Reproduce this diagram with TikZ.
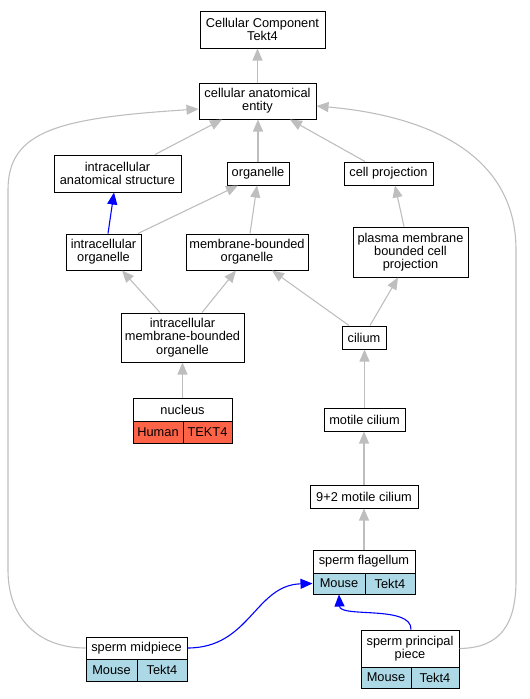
\documentclass[tikz,border=0pt]{standalone}
\usepackage{fontspec}
\setmainfont{Liberation Sans}
\usetikzlibrary{arrows.meta}
\definecolor{edgegray}{RGB}{190,190,190}
\definecolor{humanred}{RGB}{255,99,71}
\definecolor{mouseblue}{RGB}{173,216,230}
\begin{document}
\begin{tikzpicture}[x=1pt,y=-1pt,
  box/.style={draw=black, line width=1pt, inner sep=0pt, align=center, font=\fontsize{12.8}{13.3}\selectfont, fill=white},
  human/.style={box, fill=humanred},
  mouse/.style={box, fill=mouseblue},
  edge/.style={draw=edgegray, line width=1.1pt, -{Triangle[length=12pt,width=10pt]}},
  blueedge/.style={draw=blue, line width=1.1pt, -{Triangle[length=12pt,width=10pt]}}]
\useasboundingbox (0,0) rectangle (530,699);

% nodes
\node[box,minimum width=125pt,minimum height=37pt] (cc) at (262.5,29.5) {Cellular Component\\Tekt4};
\node[box,minimum width=117pt,minimum height=36pt] (cae) at (257.5,101) {cellular anatomical\\entity};
\node[box,minimum width=127pt,minimum height=37pt] (ias) at (117.5,173.5) {intracellular\\anatomical structure};
\node[box,minimum width=62pt,minimum height=23pt] (org) at (258,173.5) {organelle};
\node[box,minimum width=89pt,minimum height=23pt] (cp) at (388.5,173.5) {cell projection};
\node[box,minimum width=75pt,minimum height=36pt] (io) at (103.5,252) {intracellular\\organelle};
\node[box,minimum width=122pt,minimum height=36pt] (mbo) at (247,252) {membrane-bounded\\organelle};
\node[box,minimum width=115pt,minimum height=50pt] (pmbcp) at (410.5,252) {plasma membrane\\bounded cell\\projection};
\node[box,minimum width=123pt,minimum height=49pt] (imbo) at (182.5,337.5) {intracellular\\membrane-bounded\\organelle};
\node[box,minimum width=44pt,minimum height=23pt] (cil) at (364,337.5) {cilium};
\node[box,minimum width=99pt,minimum height=23pt] (nuc) at (182.5,409.5) {nucleus};
\node[human,minimum width=50pt,minimum height=22pt] (nuch) at (158,432) {Human};
\node[human,minimum width=49pt,minimum height=22pt] (nuct) at (207.5,432) {TEKT4};
\node[box,minimum width=81pt,minimum height=23pt] (mc) at (364.5,419.5) {motile cilium};
\node[box,minimum width=108pt,minimum height=23pt] (nt) at (364,496.5) {9+2 motile cilium};
\node[box,minimum width=102pt,minimum height=23pt] (sf) at (364,561.5) {sperm flagellum};
\node[mouse,minimum width=52pt,minimum height=21pt] (sfm) at (339,583.5) {Mouse};
\node[mouse,minimum width=50pt,minimum height=21pt] (sft) at (390,583.5) {Tekt4};
\node[box,minimum width=101pt,minimum height=22pt] (sm) at (136.5,648) {sperm midpiece};
\node[mouse,minimum width=51pt,minimum height=22pt] (smm) at (111.5,670) {Mouse};
\node[mouse,minimum width=50pt,minimum height=22pt] (smt) at (162,670) {Tekt4};
\node[box,minimum width=98pt,minimum height=37pt] (spp) at (410,648.5) {sperm principal\\piece};
\node[mouse,minimum width=50pt,minimum height=21pt] (sppm) at (386,677.5) {Mouse};
\node[mouse,minimum width=48pt,minimum height=21pt] (sppt) at (435,677.5) {Tekt4};

% edges
\draw[edge] (cae.north) -- (cae.north |- cc.south);
\draw[edge] ([xshift=37.5pt]ias.north) -- ([xshift=-35.5pt]cae.south);
\draw[edge] (org.north) -- (org.north |- cae.south);
\draw[edge] ([xshift=-23.5pt]cp.north) -- ([xshift=32.5pt]cae.south);
\draw[blueedge] ([xshift=4.5pt]io.north) -- ([xshift=-3.5pt]ias.south);
\draw[edge] ([xshift=34.5pt]io.north) -- ([xshift=-20pt]org.south);
\draw[edge] ([xshift=3pt]mbo.north) -- ([xshift=-1pt]org.south);
\draw[edge] ([xshift=-6.5pt]pmbcp.north) -- ([xshift=6.5pt]cp.south);
\draw[edge] ([xshift=-22.5pt]imbo.north) -- ([xshift=18.5pt]io.south);
\draw[edge] ([xshift=19.5pt]imbo.north) -- ([xshift=-11pt]mbo.south);
\draw[edge] ([xshift=-15pt]cil.north) -- ([xshift=25pt]mbo.south);
\draw[edge] ([xshift=6pt]cil.north) -- ([xshift=-12.5pt]pmbcp.south);
\draw[edge] (nuc.north) -- (nuc.north |- imbo.south);
\draw[edge] (mc.north) -- (mc.north |- cil.south);
\draw[edge] (nt.north) -- (nt.north |- mc.south);
\draw[edge] (sf.north) -- (sf.north |- nt.south);
\draw[blueedge] (sm.east) .. controls (250,648) and (255,585) .. (sfm.west);
\draw[blueedge] ([xshift=1pt]spp.north) .. controls (412,605) and (340,618) .. (sfm.south);
\draw[edge] (sm.west) .. controls (40,648) and (8,620) .. (8,570) -- (8,190)
  .. controls (8,130) and (60,118) .. ([yshift=-8pt]cae.west);
\draw[edge] (spp.east) .. controls (500,648) and (516,625) .. (516,580) -- (516,250)
  .. controls (516,150) and (420,115) .. ([yshift=-5pt]cae.east);
\end{tikzpicture}
\end{document}
